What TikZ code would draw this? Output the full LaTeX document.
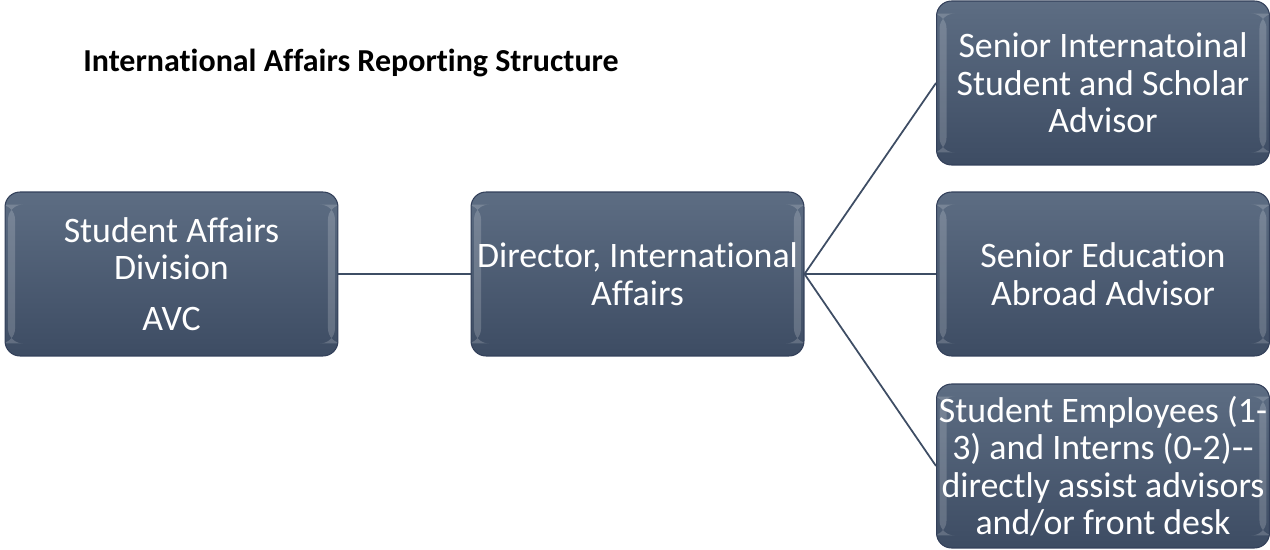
\documentclass[tikz,border=0pt]{standalone}
\usepackage{fontspec}
\setmainfont{Carlito}[Ligatures={NoCommon}, RawFeature={-liga;-clig;-dlig}]
\usepackage{tikz}
\usetikzlibrary{positioning}

\definecolor{slatetop}{HTML}{5D6D83}
\definecolor{slatebot}{HTML}{3D4C63}
\definecolor{slateedge}{HTML}{33405A}
\definecolor{slateline}{HTML}{3E4D64}

\begin{document}
\begin{tikzpicture}[x=0.02cm, y=-0.02cm,
    orgbox/.style={rounded corners=0.3cm, draw=slateedge, line width=0.6pt,
        top color=slatetop, bottom color=slatebot,
        minimum width=6.66cm, minimum height=3.28cm, inner sep=0pt,
        text=white, align=center, font=\fontsize{20.4}{21.3}\selectfont,
        path picture={
            \fill[white, opacity=0.18]
                ([xshift=0.06cm, yshift=0.25cm]path picture bounding box.south west)
                rectangle ([xshift=0.2cm, yshift=-0.25cm]path picture bounding box.north west);
            \fill[white, opacity=0.18]
                ([xshift=-0.2cm, yshift=0.25cm]path picture bounding box.south east)
                rectangle ([xshift=-0.06cm, yshift=-0.25cm]path picture bounding box.north east);
        }},
    link/.style={draw=slateline, line width=1pt}]
    \useasboundingbox (0, 0) rectangle (1270, 550);

    % Title
    \node[anchor=base west, inner sep=0pt, font=\bfseries\fontsize{18.2}{22}\selectfont] (title) at (83, 72)
        {International Affairs Reporting Structure};

    % Boxes
    \node[orgbox] (division) at (171.5, 274) {Student Affairs\\Division\\[7.5pt]AVC};
    \node[orgbox] (director) at (637.5, 274) {Director, International\\Affairs};
    \node[orgbox] (scholar) at (1103, 83) {Senior Internatoinal\\Student and Scholar\\Advisor};
    \node[orgbox] (abroad) at (1103, 274) {Senior Education\\Abroad Advisor};
    \node[orgbox] (students) at (1103, 466) {Student Employees (1-\\3) and Interns (0-2)-{}-\\directly assist advisors\\and/or front desk};

    % Reporting lines
    \draw[link] (division.east) -- (director.west);
    \draw[link] (director.east) -- (scholar.west);
    \draw[link] (director.east) -- (abroad.west);
    \draw[link] (director.east) -- (students.west);
\end{tikzpicture}
\end{document}
